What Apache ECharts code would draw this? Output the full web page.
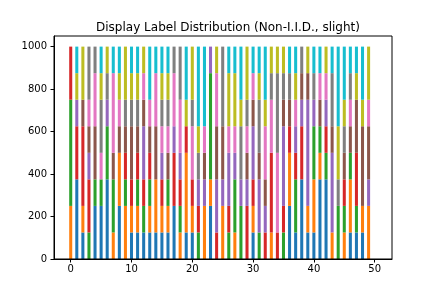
<!DOCTYPE html>
<html>
<head>
<meta charset="utf-8">
<script src="https://cdn.jsdelivr.net/npm/echarts@6/dist/echarts.min.js"></script>
<style>html,body{margin:0;padding:0;background:#fff}#c{width:436px;height:291px}</style>
</head>
<body>
<div id="c"></div>
<script>
const clients = Array.from({length: 50}, (_, i) => String(i));
const classNames = ['0','1','2','3','4','5','6','7','8','9'];
const colors = ['#1f77b4','#ff7f0e','#2ca02c','#d62728','#9467bd','#8c564b','#e377c2','#7f7f7f','#bcbd22','#17becf'];
const xTicks = [0, 10, 20, 30, 40, 50];
const yTicks = [0, 200, 400, 600, 800, 1000];

const class0 = [0,375,125,0,250,250,375,0,250,0, 125,125,125,125,125,125,125,250,0,125, 125,0,0,250,0,0,0,0,0,0, 125,0,0,0,0,0,250,125,375,125, 125,375,375,0,0,0,125,125,125,0];
const class1 = [250,0,125,0,0,0,0,125,250,250, 125,125,0,125,250,125,125,0,125,375, 125,0,250,125,0,250,0,125,0,0, 125,0,0,125,0,0,250,0,0,125, 250,125,0,125,0,125,250,0,125,250];
const class2 = [500,0,0,125,125,125,250,250,0,125, 0,125,125,125,0,0,125,0,125,0, 0,125,0,500,0,0,125,250,250,0, 0,125,0,0,0,125,0,250,0,0, 250,125,125,0,250,125,125,125,0,0];
const class3 = [250,250,375,250,0,0,0,0,0,125, 125,125,125,125,0,125,0,250,125,125, 125,125,0,0,125,0,125,0,0,250, 125,0,125,375,125,125,125,125,250,0, 0,0,125,0,0,125,0,250,0,0];
const class4 = [0,125,0,125,0,0,125,0,0,0, 0,0,250,0,0,125,0,125,125,0, 0,125,125,125,250,125,250,125,125,125, 250,250,125,0,0,375,0,125,125,500, 125,0,125,375,0,0,0,0,0,125];
const class5 = [0,0,125,125,250,0,0,125,125,125, 250,125,125,125,250,0,125,0,0,0, 0,0,125,0,250,250,0,0,0,125, 125,125,125,0,0,125,125,0,125,125, 0,125,0,125,0,125,125,250,375,250];
const class6 = [0,0,0,125,250,125,0,375,125,0, 0,0,125,125,250,125,125,250,250,0, 250,0,125,0,250,0,125,125,0,125, 125,0,250,250,375,0,0,125,0,0, 0,125,125,0,0,0,125,0,0,125];
const class7 = [0,0,0,250,125,250,125,0,0,125, 125,125,0,0,0,125,125,125,250,0, 125,125,0,0,0,375,0,0,250,125, 0,250,0,125,375,125,125,0,125,0, 125,0,0,250,125,125,125,0,0,0];
const class8 = [0,125,250,0,0,125,125,0,125,250, 125,125,125,0,0,125,125,0,0,125, 250,125,0,0,125,0,250,250,125,250, 0,125,125,125,125,125,0,125,0,125, 0,0,125,0,250,125,0,125,125,250];
const class9 = [0,125,0,0,0,125,0,125,125,0, 125,125,0,250,125,125,125,0,0,250, 0,375,375,0,0,0,125,125,250,0, 125,125,250,0,0,0,125,125,0,0, 125,125,0,125,375,250,125,125,250,0];
const classValues = [class0,class1,class2,class3,class4,class5,class6,class7,class8,class9];

const chart = echarts.init(document.getElementById('c'), null, {renderer: 'canvas'});
const font = 'DejaVu Sans';
const xMin = -2.75, xMax = 52.85;
const gl = 54, gr = 44;
const pxPerUnit = (436 - gl - gr) / (xMax - xMin);
const barLeft = gl + (-0.5 - xMin) * pxPerUnit;
const barRight = 436 - (barLeft + clients.length * pxPerUnit);
chart.setOption({
  animation: false,
  backgroundColor: '#fff',
  title: {
    text: 'Display Label Distribution (Non-I.I.D., slight)',
    left: 223, top: 17, textAlign: 'center',
    textStyle: {fontFamily: font, fontSize: 12, fontWeight: 'normal', color: '#000'}
  },
  grid: [
    {left: gl, right: gr, top: 36, bottom: 32, show: true, borderColor: '#000', borderWidth: 1, containLabel: false, z: 10},
    {left: barLeft, right: barRight, top: 36, bottom: 32, containLabel: false}
  ],
  xAxis: [{
    gridIndex: 0, type: 'value', min: xMin, max: xMax, z: 10,
    axisLine: {show: true, onZero: false, lineStyle: {color: '#000', width: 1}},
    axisTick: {show: true, length: 3.5, lineStyle: {color: '#000'}, customValues: xTicks},
    axisLabel: {fontFamily: font, fontSize: 10, color: '#000', margin: 5, customValues: xTicks},
    splitLine: {show: false}
  }, {
    gridIndex: 1, type: 'category', data: clients, boundaryGap: true, show: false
  }],
  yAxis: [{
    gridIndex: 0, type: 'value', min: 0, max: 1050, z: 10,
    axisLine: {show: true, onZero: false, lineStyle: {color: '#000', width: 1}},
    axisTick: {show: true, length: 3.5, lineStyle: {color: '#000'}, customValues: yTicks},
    axisLabel: {fontFamily: font, fontSize: 10, color: '#000', margin: 7, customValues: yTicks, formatter: v => String(v)},
    splitLine: {show: false}
  }, {
    gridIndex: 1, type: 'value', min: 0, max: 1050, show: false, splitLine: {show: false}
  }],
  series: classValues.map((vals, c) => ({
    name: classNames[c],
    type: 'bar',
    xAxisIndex: 1, yAxisIndex: 1,
    stack: 'total',
    barWidth: '50%',
    itemStyle: {color: colors[c]},
    data: vals
  }))
});
</script>
</body>
</html>
